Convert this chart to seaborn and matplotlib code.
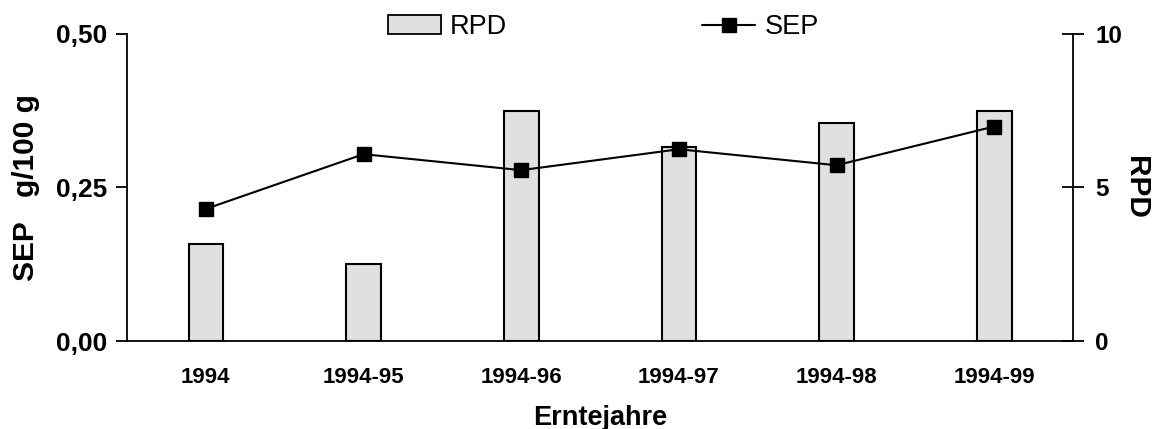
import matplotlib
matplotlib.use("Agg")
import matplotlib.pyplot as plt
from matplotlib.patches import Patch
from matplotlib.lines import Line2D
from matplotlib.ticker import FixedLocator, NullFormatter
import seaborn as sns
import pandas as pd

# Harvest-year windows and the two quality measures
years = ["1994", "1994-95", "1994-96", "1994-97", "1994-98", "1994-99"]
rpd = [3.16, 2.50, 7.49, 6.30, 7.08, 7.49]
sep = [0.215, 0.304, 0.278, 0.312, 0.286, 0.349]

df = pd.DataFrame({"Erntejahre": years, "RPD": rpd, "SEP": sep})

sns.set_theme(style="white")
plt.rcParams["font.family"] = ["Liberation Sans", "DejaVu Sans"]
plt.rcParams.update({
    "text.color": "black",
    "axes.labelcolor": "black",
    "xtick.color": "black",
    "ytick.color": "black",
})

fig = plt.figure(figsize=(11.56, 4.29), dpi=100)
ax = fig.add_axes([0.1099, 0.2051, 0.9282 - 0.1099, 0.9214 - 0.2051])
ax2 = ax.twinx()

# RPD bars on the right-hand axis, drawn behind the SEP line
sns.barplot(data=df, x="Erntejahre", y="RPD", ax=ax2, color="#e0e0e0",
            edgecolor="black", linewidth=1.5, width=0.22, saturation=1)
for p in ax2.patches:
    p.set_facecolor("#e0e0e0")

# SEP line on the left-hand axis
ax.plot(range(len(years)), df["SEP"], color="black", lw=1.5, marker="s",
        markersize=10, markerfacecolor="black", markeredgecolor="black")

ax.set_zorder(ax2.get_zorder() + 1)
ax.patch.set_visible(False)

for a in (ax, ax2):
    a.set_xlim(-0.5, len(years) - 0.5)
ax.set_ylim(0, 0.5)
ax2.set_ylim(0, 10)

# Spines
for a in (ax, ax2):
    a.spines["top"].set_visible(False)
ax.spines["right"].set_visible(False)
ax2.spines["left"].set_visible(False)
ax2.spines["bottom"].set_visible(False)
for s in ("left", "bottom"):
    ax.spines[s].set_color("black")
    ax.spines[s].set_linewidth(1.3)
ax2.spines["right"].set_color("black")
ax2.spines["right"].set_linewidth(1.3)

# Left axis ticks
ax.set_yticks([0, 0.25, 0.5])
ax.set_yticklabels(["0,00", "0,25", "0,50"], fontsize=19, fontweight="bold",
                   color="black")
ax.tick_params(axis="y", direction="out", length=8, width=1.3, color="black",
               labelcolor="black", left=True, pad=6)

# Right axis ticks (crossing the spine)
ax2.set_yticks([0, 5, 10])
ax2.set_yticklabels(["0", "5", "10"], fontsize=17.5, fontweight="bold",
                    color="black")
ax2.tick_params(axis="y", direction="inout", length=16, width=1.3,
                color="black", labelcolor="black", right=True, pad=8)

# Category ticks at boundaries, labels at centres
ax.xaxis.set_major_locator(FixedLocator([i - 0.5 for i in range(len(years) + 1)]))
ax.xaxis.set_major_formatter(NullFormatter())
ax.xaxis.set_minor_locator(FixedLocator(list(range(len(years)))))
ax.set_xticklabels(years, minor=True, fontsize=16, fontweight="bold",
                   color="black")
ax.tick_params(axis="x", which="major", direction="out", length=7, width=1.3,
               color="black", bottom=True)
ax.tick_params(axis="x", which="minor", length=0, pad=19, labelcolor="black")
ax2.set_xticks([])
ax2.set_xlabel("")

ax.set_xlabel("Erntejahre", fontsize=19.5, fontweight="bold", labelpad=12,
              color="black")
ax.set_ylabel("SEP   g/100 g", fontsize=21.5, fontweight="bold", labelpad=12,
              color="black")
ax2.set_ylabel("RPD", fontsize=21.5, fontweight="bold", rotation=270,
               labelpad=20, color="black")

handles = [
    Patch(facecolor="#e0e0e0", edgecolor="black", linewidth=1.3, label="RPD"),
    Line2D([0], [0], color="black", lw=1.5, marker="s", markersize=10,
           label="SEP"),
]
leg = fig.legend(handles=handles, ncol=2, loc="center",
                 bbox_to_anchor=(0.522, 0.936), frameon=False,
                 prop={"size": 19.5}, handlelength=1.96, handleheight=0.7,
                 columnspacing=7.2, handletextpad=0.33)
for t in leg.get_texts():
    t.set_color("black")

fig.savefig("out.png", dpi=100)
